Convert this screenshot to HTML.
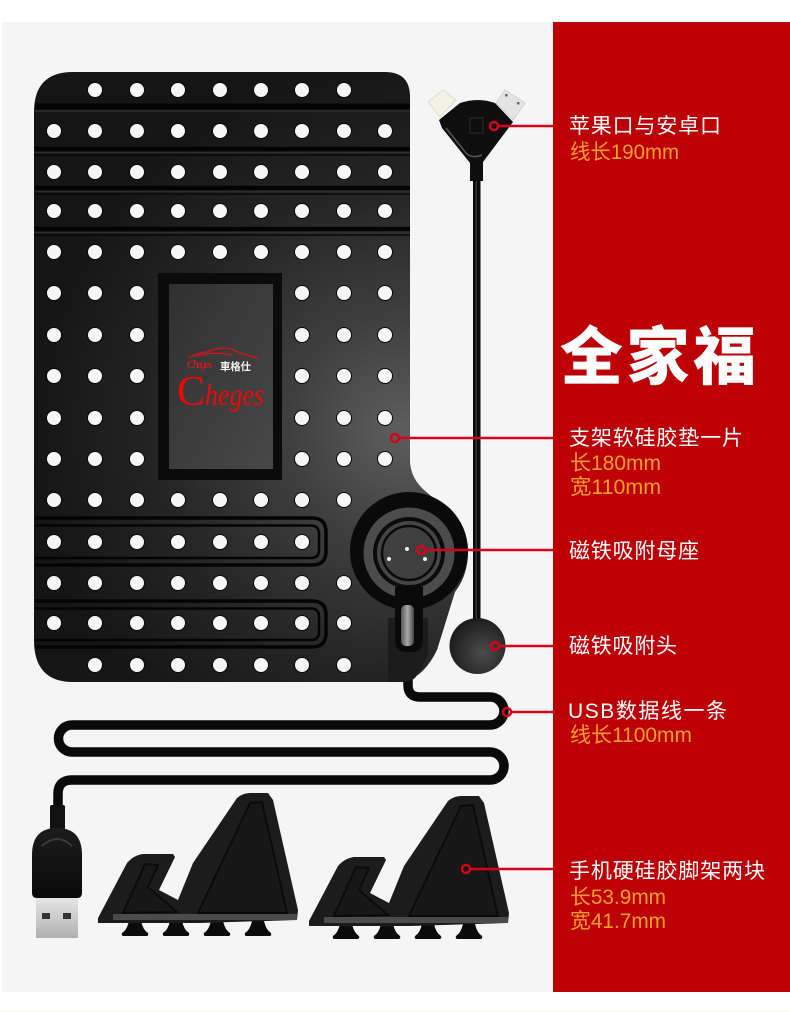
<!DOCTYPE html>
<html><head><meta charset="utf-8"><style>
html,body{margin:0;padding:0;background:#fff;width:790px;height:1012px;overflow:hidden}
svg{display:block}
.t{font-family:"Liberation Sans","Noto Sans CJK SC",sans-serif;font-size:21px;fill:#fff}
.o{font-family:"Liberation Sans","Noto Sans CJK SC",sans-serif;font-size:21px;fill:#fb9f2a}
</style></head><body>
<svg width="790" height="1012" viewBox="0 0 790 1012" xmlns="http://www.w3.org/2000/svg">
<defs>
<radialGradient id="mat" gradientUnits="userSpaceOnUse" cx="400" cy="430" r="370">
<stop offset="0" stop-color="#5e5e5e"/><stop offset=".3" stop-color="#3f3f3f"/><stop offset=".65" stop-color="#252525"/><stop offset="1" stop-color="#151515"/>
</radialGradient>
<linearGradient id="inner" x1="0" y1="0" x2="1" y2="1"><stop offset="0" stop-color="#303030"/><stop offset="1" stop-color="#484848"/></linearGradient>
<linearGradient id="metal" x1="0" y1="0" x2="0" y2="1"><stop offset="0" stop-color="#e6e6e6"/><stop offset="1" stop-color="#b0b0b0"/></linearGradient>
<linearGradient id="usb" x1="0" y1="0" x2="0" y2="1"><stop offset="0" stop-color="#1c1c1c"/><stop offset="1" stop-color="#0a0a0a"/></linearGradient>
<radialGradient id="mag" cx=".6" cy=".62" r=".6"><stop offset="0" stop-color="#4c4c4c"/><stop offset="1" stop-color="#1e1e1e"/></radialGradient>
<linearGradient id="glass" x1="0" y1="0" x2="1" y2="0"><stop offset="0" stop-color="#555"/><stop offset=".5" stop-color="#aaa"/><stop offset="1" stop-color="#444"/></linearGradient>
</defs>

<rect x="2" y="22" width="551" height="970" fill="#f5f5f5"/>
<rect x="553" y="22" width="237" height="970" fill="#bc0006"/>
<rect x="0" y="1011" width="790" height="1" fill="#fbf8dc"/>

<!-- phone cable -->
<rect x="473" y="175" width="7.500" height="450" fill="#0c0c0c"/>
<rect x="475.500" y="175" width="1.500" height="450" fill="#333"/>
<circle cx="477.500" cy="646" r="28" fill="url(#mag)"/>

<!-- connector head -->
<polygon points="428,102 443,90 456,100 440,117" fill="#f3f1e4" stroke="#dcdcd0" stroke-width="1"/>
<polygon points="505,90 525,103 513,120 496,103" fill="#e4e4e4" stroke="#cfcfcf" stroke-width="1"/>
<rect x="505" y="94" width="2.500" height="2.500" fill="#666"/><rect x="517" y="102" width="2.500" height="2.500" fill="#666"/>
<path d="M439 120 L460 103 Q478 97 495 103 L513 122 L483 162 L483 181 L470 181 L470 163 L442 128 Z" fill="#0f0f0f"/>
<path d="M446 128 L466 153 Q472 159 482 155" fill="none" stroke="#555" stroke-width="1.500"/>
<rect x="470" y="118" width="13" height="15" fill="none" stroke="#2c2c2c" stroke-width="1"/>

<!-- mat -->
<path d="M73 72 H385 Q410 72 410 97 V462 Q411 478 424 490 L450 512 Q468 530 468 552 Q468 575 455 592 L437 650 Q425 675 405 682 H73 Q34 682 34 640 V112 Q34 72 73 72 Z" fill="url(#mat)"/>

<!-- horizontal grooves -->
<g fill="none">
<path d="M35 106.500 H410" stroke="#040404" stroke-width="6"/>
<path d="M35 149 H410 M35 188 H410 M35 229 H410" stroke="#040404" stroke-width="4.500"/>
<path d="M35 155 H410 M35 194 H410 M35 235 H410" stroke="#080808" stroke-width="1.500"/>
<path d="M35 152.500 H410 M35 191.500 H410 M35 232.500 H410 M35 111 H410" stroke="#2e2e2e" stroke-width="1.500"/>
<g stroke="#040404">
<path d="M35 518 H312 Q326 518 326 532 V551 Q326 565 312 565 H35" stroke-width="3.500"/>
<path d="M35 525.500 H311 Q319 525.500 319 534 V550 Q319 558 311 558 H35" stroke-width="2.500"/>
<path d="M35 601 H312 Q326 601 326 615 V633 Q326 647 312 647 H35" stroke-width="3.500"/>
<path d="M35 608.500 H311 Q319 608.500 319 617 V632 Q319 640 311 640 H35" stroke-width="2.500"/>
</g>
</g>

<!-- logo window -->
<rect x="158" y="273" width="124" height="207" fill="#0b0b0b"/>
<rect x="169" y="284" width="104" height="185" fill="url(#inner)"/>
<path d="M188 358 Q200 352 207 352 Q220 346 232 349 Q240 354 258 358 M196 356 Q215 351 232 355" fill="none" stroke="#e01015" stroke-width="1.300"/>
<text x="187" y="368" font-family="Liberation Serif,serif" font-style="italic" font-size="11.500" fill="#e8171c" textLength="25">Cheges</text>
<text x="220" y="370" font-family="Liberation Sans,Noto Sans CJK TC,sans-serif" font-weight="700" font-size="10.500" fill="#f2f2f2" textLength="31">車格仕</text>
<text x="177" y="405" font-family="Liberation Serif,serif" font-size="42" fill="#f00808">C</text>
<text x="205" y="405" font-family="Liberation Serif,serif" font-size="31" font-style="italic" fill="#f00808" textLength="59" lengthAdjust="spacingAndGlyphs">heges</text>

<!-- holes -->
<g fill="#f6f6f6" stroke="#090909" stroke-width="1">
<circle cx="95" cy="90" r="7.500"/><circle cx="137" cy="90" r="7.500"/><circle cx="178" cy="90" r="7.500"/><circle cx="220" cy="90" r="7.500"/><circle cx="261" cy="90" r="7.500"/><circle cx="302" cy="90" r="7.500"/><circle cx="344" cy="90" r="7.500"/>
<circle cx="54" cy="131" r="7.500"/><circle cx="95" cy="131" r="7.500"/><circle cx="137" cy="131" r="7.500"/><circle cx="178" cy="131" r="7.500"/><circle cx="220" cy="131" r="7.500"/><circle cx="261" cy="131" r="7.500"/><circle cx="302" cy="131" r="7.500"/><circle cx="344" cy="131" r="7.500"/><circle cx="385" cy="131" r="7.500"/>
<circle cx="54" cy="172" r="7.500"/><circle cx="95" cy="172" r="7.500"/><circle cx="137" cy="172" r="7.500"/><circle cx="178" cy="172" r="7.500"/><circle cx="220" cy="172" r="7.500"/><circle cx="261" cy="172" r="7.500"/><circle cx="302" cy="172" r="7.500"/><circle cx="344" cy="172" r="7.500"/><circle cx="385" cy="172" r="7.500"/>
<circle cx="54" cy="211" r="7.500"/><circle cx="95" cy="211" r="7.500"/><circle cx="137" cy="211" r="7.500"/><circle cx="178" cy="211" r="7.500"/><circle cx="220" cy="211" r="7.500"/><circle cx="261" cy="211" r="7.500"/><circle cx="302" cy="211" r="7.500"/><circle cx="344" cy="211" r="7.500"/><circle cx="385" cy="211" r="7.500"/>
<circle cx="54" cy="252" r="7.500"/><circle cx="95" cy="252" r="7.500"/><circle cx="137" cy="252" r="7.500"/><circle cx="178" cy="252" r="7.500"/><circle cx="220" cy="252" r="7.500"/><circle cx="261" cy="252" r="7.500"/><circle cx="302" cy="252" r="7.500"/><circle cx="344" cy="252" r="7.500"/><circle cx="385" cy="252" r="7.500"/>
<circle cx="54" cy="293" r="7.500"/><circle cx="95" cy="293" r="7.500"/><circle cx="137" cy="293" r="7.500"/><circle cx="302" cy="293" r="7.500"/><circle cx="344" cy="293" r="7.500"/><circle cx="385" cy="293" r="7.500"/>
<circle cx="54" cy="335" r="7.500"/><circle cx="95" cy="335" r="7.500"/><circle cx="137" cy="335" r="7.500"/><circle cx="302" cy="335" r="7.500"/><circle cx="344" cy="335" r="7.500"/><circle cx="385" cy="335" r="7.500"/>
<circle cx="54" cy="376" r="7.500"/><circle cx="95" cy="376" r="7.500"/><circle cx="137" cy="376" r="7.500"/><circle cx="302" cy="376" r="7.500"/><circle cx="344" cy="376" r="7.500"/><circle cx="385" cy="376" r="7.500"/>
<circle cx="54" cy="418" r="7.500"/><circle cx="95" cy="418" r="7.500"/><circle cx="137" cy="418" r="7.500"/><circle cx="302" cy="418" r="7.500"/><circle cx="344" cy="418" r="7.500"/><circle cx="385" cy="418" r="7.500"/>
<circle cx="54" cy="459" r="7.500"/><circle cx="95" cy="459" r="7.500"/><circle cx="137" cy="459" r="7.500"/><circle cx="302" cy="459" r="7.500"/><circle cx="344" cy="459" r="7.500"/><circle cx="385" cy="459" r="7.500"/>
<circle cx="54" cy="500" r="7.500"/><circle cx="95" cy="500" r="7.500"/><circle cx="137" cy="500" r="7.500"/><circle cx="178" cy="500" r="7.500"/><circle cx="220" cy="500" r="7.500"/><circle cx="261" cy="500" r="7.500"/><circle cx="302" cy="500" r="7.500"/><circle cx="344" cy="500" r="7.500"/>
<circle cx="54" cy="542" r="7.500"/><circle cx="95" cy="542" r="7.500"/><circle cx="137" cy="542" r="7.500"/><circle cx="178" cy="542" r="7.500"/><circle cx="220" cy="542" r="7.500"/><circle cx="261" cy="542" r="7.500"/><circle cx="302" cy="542" r="7.500"/>
<circle cx="54" cy="583" r="7.500"/><circle cx="95" cy="583" r="7.500"/><circle cx="137" cy="583" r="7.500"/><circle cx="178" cy="583" r="7.500"/><circle cx="220" cy="583" r="7.500"/><circle cx="261" cy="583" r="7.500"/><circle cx="302" cy="583" r="7.500"/><circle cx="344" cy="583" r="7.500"/>
<circle cx="54" cy="623" r="7.500"/><circle cx="95" cy="623" r="7.500"/><circle cx="137" cy="623" r="7.500"/><circle cx="178" cy="623" r="7.500"/><circle cx="220" cy="623" r="7.500"/><circle cx="261" cy="623" r="7.500"/><circle cx="302" cy="623" r="7.500"/><circle cx="344" cy="623" r="7.500"/>
<circle cx="95" cy="665" r="7.500"/><circle cx="137" cy="665" r="7.500"/><circle cx="178" cy="665" r="7.500"/><circle cx="220" cy="665" r="7.500"/><circle cx="261" cy="665" r="7.500"/><circle cx="302" cy="665" r="7.500"/><circle cx="344" cy="665" r="7.500"/>
</g>

<!-- long cable -->
<path d="M408 676 V685 Q408 697 420 697 H490 A14 14 0 0 1 490 725 H72 A13.500 13.500 0 0 0 72 752 H490 A14 14 0 0 1 490 780 H72 Q58 780 58 794 V812" fill="none" stroke="#0a0a0a" stroke-width="9.500"/>

<!-- magnetic base -->
<path d="M388 618 H428 V655 L415 678 Q410 682 402 682 H388 Z" fill="#1c1c1c"/>
<circle cx="409" cy="551" r="59" fill="#0a0a0a"/>
<circle cx="409" cy="553" r="45.500" fill="#4c4c4c"/>
<circle cx="409" cy="553" r="36" fill="#0b0b0b"/>
<circle cx="409" cy="553" r="32" fill="#454545"/>
<circle cx="409" cy="553" r="27" fill="#3f3f3f" stroke="#0a0a0a" stroke-width="2.500"/>
<circle cx="407" cy="549" r="2" fill="#eee"/><circle cx="389" cy="559" r="2" fill="#eee"/><circle cx="425" cy="559" r="2" fill="#eee"/>
<path d="M395 587 H423 V640 Q423 652 412 652 H406 Q395 652 395 640 Z" fill="#0a0a0a"/>
<rect x="401" y="605" width="13" height="41" rx="5" fill="url(#glass)"/>

<!-- USB plug -->
<rect x="50" y="805" width="15" height="28" rx="2" fill="#111"/>
<path d="M32 855 Q32 828 57 828 Q82 828 82 855 V893 Q82 898 77 898 H37 Q32 898 32 893 Z" fill="url(#usb)"/>
<path d="M42 846 Q57 832 72 846" fill="none" stroke="#3a3a3a" stroke-width="2"/>
<rect x="36" y="898" width="42" height="40" fill="url(#metal)"/>
<rect x="42" y="913" width="8" height="6" fill="#333"/><rect x="63" y="913" width="8" height="6" fill="#333"/>

<!-- stand 1 -->
<g>
<path d="M129 921 H141 Q143 930 148 933 Q149 936 146 936 H124 Q121 936 122 933 Q127 930 129 921 Z M170 921 H182 Q184 930 189 933 Q190 936 187 936 H165 Q162 936 163 933 Q168 930 170 921 Z M211 921 H223 Q225 930 230 933 Q231 936 228 936 H206 Q203 936 204 933 Q209 930 211 921 Z M252 921 H264 Q266 930 271 933 Q272 936 269 936 H247 Q244 936 245 933 Q250 930 252 921 Z" fill="#0b0b0b"/>
<path d="M98 918 L127 863 Q134 855 143 854 H173 L175 857 L159 890 L178 900 L193 863 L237 798 Q243 793 250 793 H268 L273 800 L298 910 L297 920 L200 923 H98 Z" fill="#1c1c1c"/>
<path d="M123 913 L145 864 L158 865 L148 887 L177 912 Z M198 913 L250 803 L262 802 L287 913 Z" fill="#171717" stroke="#0a0a0a" stroke-width="2"/>
<path d="M113 914 H297 V920 H113 Z" fill="#4b4b4b"/>
</g>
<!-- stand 2 -->
<g transform="translate(211 3)">
<path d="M129 921 H141 Q143 930 148 933 Q149 936 146 936 H124 Q121 936 122 933 Q127 930 129 921 Z M170 921 H182 Q184 930 189 933 Q190 936 187 936 H165 Q162 936 163 933 Q168 930 170 921 Z M211 921 H223 Q225 930 230 933 Q231 936 228 936 H206 Q203 936 204 933 Q209 930 211 921 Z M252 921 H264 Q266 930 271 933 Q272 936 269 936 H247 Q244 936 245 933 Q250 930 252 921 Z" fill="#0b0b0b"/>
<path d="M98 918 L127 863 Q134 855 143 854 H173 L175 857 L159 890 L178 900 L193 863 L237 798 Q243 793 250 793 H268 L273 800 L298 910 L297 920 L200 923 H98 Z" fill="#1c1c1c"/>
<path d="M123 913 L145 864 L158 865 L148 887 L177 912 Z M198 913 L250 803 L262 802 L287 913 Z" fill="#171717" stroke="#0a0a0a" stroke-width="2"/>
<path d="M113 914 H297 V920 H113 Z" fill="#4b4b4b"/>
</g>

<!-- callouts -->
<g stroke="#d5001a" stroke-width="2.500" fill="none">
<path d="M499 126 H553"/><circle cx="494" cy="126" r="4"/>
<path d="M400 438 H553"/><circle cx="395" cy="438" r="4"/>
<path d="M426 550 H553"/><circle cx="421" cy="550" r="4"/>
<path d="M500 646 H553"/><circle cx="495" cy="646" r="4"/>
<path d="M512 712 H553"/><circle cx="507" cy="712" r="4"/>
<path d="M471 869 H553"/><circle cx="466" cy="869" r="4"/>
</g>

<!-- labels -->
<text class="t" x="569" y="133" textLength="152">苹果口与安卓口</text>
<text class="o" x="570" y="159" textLength="109" lengthAdjust="spacingAndGlyphs">线长190mm</text>
<text x="560" y="379" font-family="Liberation Sans,Noto Sans CJK SC,sans-serif" font-weight="900" font-size="63" fill="#fff" textLength="196">全家福</text>
<text class="t" x="569" y="445" textLength="174">支架软硅胶垫一片</text>
<text class="o" x="570" y="470" textLength="91" lengthAdjust="spacingAndGlyphs">长180mm</text>
<text class="o" x="570" y="494" textLength="91" lengthAdjust="spacingAndGlyphs">宽110mm</text>
<text class="t" x="569" y="558" textLength="130">磁铁吸附母座</text>
<text class="t" x="569" y="653" textLength="108">磁铁吸附头</text>
<text class="t" x="568" y="718" textLength="159">USB数据线一条</text>
<text class="o" x="570" y="742" textLength="122" lengthAdjust="spacingAndGlyphs">线长1100mm</text>
<text class="t" x="569" y="878" textLength="196">手机硬硅胶脚架两块</text>
<text class="o" x="570" y="904" textLength="96" lengthAdjust="spacingAndGlyphs">长53.9mm</text>
<text class="o" x="570" y="928" textLength="96" lengthAdjust="spacingAndGlyphs">宽41.7mm</text>
</svg>
</body></html>
